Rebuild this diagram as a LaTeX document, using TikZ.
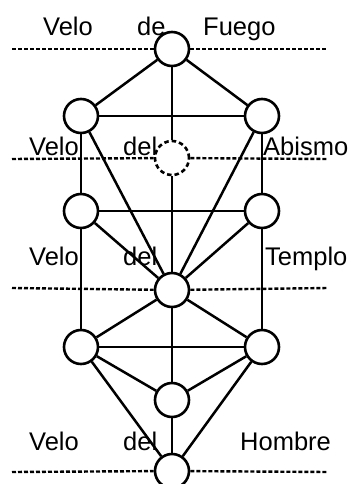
\documentclass[tikz,border=0pt]{standalone}
\usepackage{fontspec}
\setmainfont{Liberation Sans}
\begin{document}
\begin{tikzpicture}[x=1pt,y=-1pt,
  sef/.style={circle,draw,fill=white,line width=2.6pt,minimum size=34pt,inner sep=0pt},
  sefdash/.style={sef,dash pattern=on 4.5pt off 3pt},
  path/.style={line width=2.5pt},
  veil/.style={line width=2.4pt,dash pattern=on 4pt off 2pt},
  lbl/.style={anchor=base west,inner sep=0pt,font=\fontsize{25.5}{29}\selectfont}]
\useasboundingbox (0,0) rectangle (351,484);
% sephiroth
\node[sef] (k) at (172,49) {};
\node[sef] (bi) at (81,116) {};
\node[sef] (ch) at (262,116) {};
\node[sefdash] (da) at (172,158) {};
\node[sef] (ge) at (81,211) {};
\node[sef] (he) at (262,211) {};
\node[sef] (ti) at (172,290) {};
\node[sef] (ho) at (81,347) {};
\node[sef] (ne) at (262,347) {};
\node[sef] (ye) at (172,400) {};
\node[sef] (ma) at (172,471) {};
% veil ends
\coordinate (v1l) at (12,49);  \coordinate (v1r) at (328,49);
\coordinate (v2l) at (12,159); \coordinate (v2r) at (328,159);
\coordinate (v3l) at (12,288); \coordinate (v3r) at (328,288);
\coordinate (v4l) at (12,472); \coordinate (v4r) at (328,472);
% veils
\draw[veil] (v1l) -- (k) (k) -- (v1r);
\draw[veil] (v2l) -- (da) (da) -- (v2r);
\draw[veil] (v3l) -- (ti) (ti) -- (v3r);
\draw[veil] (v4l) -- (ma) (ma) -- (v4r);
% paths
\draw[path] (k) -- (bi);
\draw[path] (k) -- (ch);
\draw[path] (k) -- (da);
\draw[path] (da) -- (ti);
\draw[path] (bi) -- (ch);
\draw[path] (bi) -- (ge);
\draw[path] (bi) -- (ti);
\draw[path] (ch) -- (he);
\draw[path] (ch) -- (ti);
\draw[path] (ge) -- (he);
\draw[path] (ge) -- (ti);
\draw[path] (he) -- (ti);
\draw[path] (ge) -- (ho);
\draw[path] (he) -- (ne);
\draw[path] (ti) -- (ho);
\draw[path] (ti) -- (ne);
\draw[path] (ti) -- (ye);
\draw[path] (ho) -- (ne);
\draw[path] (ho) -- (ye);
\draw[path] (ne) -- (ye);
\draw[path] (ho) -- (ma);
\draw[path] (ne) -- (ma);
\draw[path] (ye) -- (ma);
% labels
\node[lbl] (t1a) at (43,36) {Velo};
\node[lbl] (t1b) at (137,36) {de};
\node[lbl] (t1c) at (203,36) {Fuego};
\node[lbl] (t2a) at (29,155) {Velo};
\node[lbl] (t2b) at (123,155) {del};
\node[lbl] (t2c) at (263,155) {Abismo};
\node[lbl] (t3a) at (29,265) {Velo};
\node[lbl] (t3b) at (123,265) {del};
\node[lbl] (t3c) at (265,265) {Templo};
\node[lbl] (t4a) at (29,450) {Velo};
\node[lbl] (t4b) at (123,450) {del};
\node[lbl] (t4c) at (240,450) {Hombre};
\end{tikzpicture}
\end{document}
